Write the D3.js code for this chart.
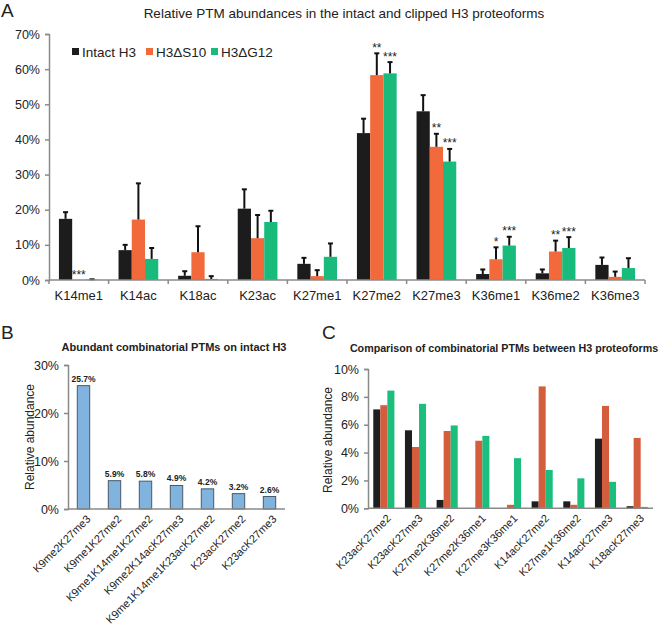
<!DOCTYPE html>
<html><head><meta charset="utf-8">
<script src="https://cdn.jsdelivr.net/npm/d3@7"></script>
<style>body{margin:0;background:#fff} svg{font-family:"Liberation Sans",Arial,sans-serif}</style>
</head><body><svg id="chart" width="660" height="625"></svg>
<script>
// ---------- Panel A data ----------
const categoriesA = ["K14me1","K14ac","K18ac","K23ac","K27me1","K27me2","K27me3","K36me1","K36me2","K36me3"];
const seriesA = ["Intact H3","H3\u0394S10","H3\u0394G12"];
const intactA = [17.4, 8.5, 1.2, 20.3, 4.6, 41.8, 48.0, 1.7, 1.9, 4.3];
const s10A    = [0, 17.2, 7.9, 11.9, 1.1, 58.3, 37.9, 5.9, 8.1, 0.9];
const g12A    = [0.1, 6.0, 0.3, 16.5, 6.6, 58.8, 33.7, 9.8, 9.1, 3.4];
const intactErrA = [1.9, 1.5, 1.3, 5.5, 1.7, 4.1, 4.6, 1.3, 1.1, 2.1];
const s10ErrA    = [0, 10.3, 7.4, 6.6, 1.7, 6.2, 3.7, 3.4, 3.1, 1.5];
const g12ErrA    = [0.1, 3.1, 0.8, 3.2, 3.8, 3.2, 3.6, 2.5, 3.1, 2.8];
const s10SigA = ["***","","","","","**","**","*","**",""];
const g12SigA = ["","","","","","***","***","***","***",""];
const ticksA = [0,10,20,30,40,50,60,70];

// ---------- Panel B data ----------
const categoriesB = ["K9me2K27me3","K9me1K27me2","K9me1K14me1K27me2","K9me2K14acK27me3","K9me1K14me1K23acK27me2","K23acK27me2","K23acK27me3"];
const valuesB = [25.7, 5.9, 5.8, 4.9, 4.2, 3.2, 2.6];
const ticksB = [0,10,20,30];

// ---------- Panel C data ----------
const categoriesC = ["K23acK27me2","K23acK27me3","K27me2K36me2","K27me2K36me1","K27me3K36me1","K14acK27me2","K27me1K36me2","K14acK27me3","K18acK27me3"];
const intactC = [7.1, 5.6, 0.6, 0, 0, 0.5, 0.5, 5.0, 0.15];
const s10C    = [7.4, 4.4, 5.55, 4.85, 0.25, 8.75, 0.25, 7.35, 5.05];
const g12C    = [8.45, 7.5, 5.95, 5.2, 3.6, 2.75, 2.15, 1.9, 0.1];
const ticksC = [0,2,4,6,8,10];

const svg = d3.select("#chart");
const axisColor = "#8a8a8a";
const colorsA = ["#1c1c1c","#f26a3c","#18bb7c"];
const colorsC = ["#1f1f1f","#d35d3c","#1bbe7c"];

function styleAxis(g){
  g.select(".domain").attr("stroke", axisColor).attr("stroke-width", 1.5);
  g.selectAll(".tick line").attr("stroke", axisColor).attr("stroke-width", 1.5);
  g.selectAll("text").attr("fill","#222");
}

// ================= Panel A =================
{
  const x0 = d3.scaleBand().domain(categoriesA).range([49, 645]).padding(0);
  const bw = x0.bandwidth();
  const x1 = d3.scaleBand().domain(seriesA).range([bw*0.75/4.5, bw - bw*0.75/4.5]).padding(0);
  const y = d3.scaleLinear().domain([0, 70]).range([280, 34]);

  svg.append("text").attr("x",1).attr("y",17).attr("font-size",19).attr("fill","#222").text("A");
  svg.append("text").attr("x",344).attr("y",18).attr("text-anchor","middle").attr("font-size",13.5).attr("fill","#222")
     .text("Relative PTM abundances in the intact and clipped H3 proteoforms");

  const gy = svg.append("g").attr("transform","translate(49,0)")
    .call(d3.axisLeft(y).tickValues(ticksA).tickFormat(d=>d+"%").tickSize(4).tickPadding(5));
  gy.selectAll("text").attr("font-size",12.5);
  styleAxis(gy);

  const allSeries = [intactA, s10A, g12A];
  const allErr = [intactErrA, s10ErrA, g12ErrA];
  const allSig = [null, s10SigA, g12SigA];
  seriesA.forEach((s, si) => {
    const g = svg.append("g");
    categoriesA.forEach((c, ci) => {
      const v = allSeries[si][ci];
      const e = allErr[si][ci];
      const bx = x0(c) + x1(s);
      const w = x1.bandwidth();
      if (v > 0) {
        g.append("rect").attr("x", bx).attr("y", y(v)).attr("width", w).attr("height", y(0) - y(v)).attr("fill", colorsA[si]);
      }
      const cx = bx + w/2;
      if (e > 0) {
        g.append("line").attr("x1",cx).attr("x2",cx).attr("y1",y(v)).attr("y2",y(v+e)).attr("stroke","#111").attr("stroke-width",2);
        g.append("line").attr("x1",cx-2.5).attr("x2",cx+2.5).attr("y1",y(v+e)).attr("y2",y(v+e)).attr("stroke","#111").attr("stroke-width",2);
      }
      if (allSig[si] && allSig[si][ci]) {
        g.append("text").attr("x",cx).attr("y",y(v+e)-1.5).attr("text-anchor","middle").attr("font-size",12).attr("fill","#222").text(allSig[si][ci]);
      }
    });
  });

  // x axis
  const gx = svg.append("g");
  gx.append("line").attr("x1",49).attr("x2",645).attr("y1",y(0)).attr("y2",y(0)).attr("stroke",axisColor).attr("stroke-width",1.5);
  const bounds = categoriesA.map(c => x0(c)).concat([x0.range()[1]]);
  gx.selectAll("line.b").data(bounds).join("line").attr("class","b")
    .attr("x1",d=>d).attr("x2",d=>d).attr("y1",y(0)).attr("y2",y(0)+4).attr("stroke",axisColor).attr("stroke-width",1.5);
  gx.selectAll("text").data(categoriesA).join("text")
    .attr("x", d => x0(d) + bw/2).attr("y", 300).attr("text-anchor","middle").attr("font-size",13).attr("fill","#222").text(d=>d);

  // legend
  const lg = svg.append("g");
  const legX = [72, 146, 211];
  seriesA.forEach((s, i) => {
    lg.append("rect").attr("x", legX[i]).attr("y", 48).attr("width", 7).attr("height", 7).attr("fill", colorsA[i]);
    lg.append("text").attr("x", legX[i]+10).attr("y", 56.5).attr("font-size", 13.5).attr("fill","#222").text(s);
  });
}

// ================= Panel B =================
{
  const x = d3.scaleBand().domain(categoriesB).range([68, 285]).paddingInner(0.6).paddingOuter(0.3);
  const y = d3.scaleLinear().domain([0, 30]).range([509, 365]);

  svg.append("text").attr("x",1).attr("y",339).attr("font-size",19).attr("fill","#222").text("B");
  svg.append("text").attr("x",174).attr("y",351).attr("text-anchor","middle").attr("font-size",11).attr("font-weight","bold").attr("fill","#222")
     .text("Abundant combinatorial PTMs on intact H3");

  const gy = svg.append("g").attr("transform","translate(68,0)")
    .call(d3.axisLeft(y).tickValues(ticksB).tickFormat(d=>d+"%").tickSize(4).tickPadding(5));
  gy.selectAll("text").attr("font-size",12.5);
  styleAxis(gy);

  svg.append("text").attr("transform","translate(34,437) rotate(-90)").attr("text-anchor","middle").attr("font-size",12).attr("fill","#222").text("Relative abundance");

  svg.append("g").selectAll("rect").data(valuesB).join("rect")
    .attr("x",(d,i)=>x(categoriesB[i])).attr("y",d=>y(d)).attr("width",x.bandwidth()).attr("height",d=>y(0)-y(d))
    .attr("fill","#80b3de").attr("stroke","#4a5866").attr("stroke-width",1);
  svg.append("g").selectAll("text").data(valuesB).join("text")
    .attr("x",(d,i)=>x(categoriesB[i])+x.bandwidth()/2).attr("y",d=>y(d)-4).attr("text-anchor","middle")
    .attr("font-size",8.5).attr("font-weight","bold").attr("fill","#222").text(d=>d.toFixed(1)+"%");

  svg.append("line").attr("x1",68).attr("x2",285).attr("y1",y(0)).attr("y2",y(0)).attr("stroke",axisColor).attr("stroke-width",1.5);
  svg.append("g").selectAll("text").data(categoriesB).join("text")
    .attr("transform",d=>`translate(${x(d)+x.bandwidth()/2+5},${y(0)+8}) rotate(-45)`)
    .attr("text-anchor","end").attr("dy","0.35em").attr("font-size",11).attr("fill","#222").text(d=>d);
}

// ================= Panel C =================
{
  const x0 = d3.scaleBand().domain(categoriesC).range([368, 653]).padding(0);
  const bw = x0.bandwidth();
  const series = ["intact","s10","g12"];
  const x1 = d3.scaleBand().domain(series).range([bw*0.75/4.5, bw - bw*0.75/4.5]).padding(0);
  const y = d3.scaleLinear().domain([0, 10]).range([508.3, 369]);

  svg.append("text").attr("x",322).attr("y",339).attr("font-size",19).attr("fill","#222").text("C");
  svg.append("text").attr("x",504).attr("y",352).attr("text-anchor","middle").attr("font-size",10.7).attr("font-weight","bold").attr("fill","#222")
     .text("Comparison of combinatorial PTMs between H3 proteoforms");

  const gy = svg.append("g").attr("transform","translate(368,0)")
    .call(d3.axisLeft(y).tickValues(ticksC).tickFormat(d=>d+"%").tickSize(4).tickPadding(5));
  gy.selectAll("text").attr("font-size",12.5);
  styleAxis(gy);

  svg.append("text").attr("transform","translate(332,440) rotate(-90)").attr("text-anchor","middle").attr("font-size",12).attr("fill","#222").text("Relative abundance");

  const data = [intactC, s10C, g12C];
  series.forEach((s, si) => {
    svg.append("g").selectAll("rect").data(data[si]).join("rect")
      .attr("x",(d,i)=>x0(categoriesC[i]) + x1(s)).attr("y",d=>y(d)).attr("width",x1.bandwidth()).attr("height",d=>y(0)-y(d))
      .attr("fill",colorsC[si]);
  });

  svg.append("line").attr("x1",368).attr("x2",653).attr("y1",y(0)).attr("y2",y(0)).attr("stroke",axisColor).attr("stroke-width",1.5);
  svg.append("g").selectAll("text").data(categoriesC).join("text")
    .attr("transform",d=>`translate(${x0(d)+bw/2+5},${y(0)+8}) rotate(-45)`)
    .attr("text-anchor","end").attr("dy","0.35em").attr("font-size",11).attr("fill","#222").text(d=>d);
}
</script></body></html>
